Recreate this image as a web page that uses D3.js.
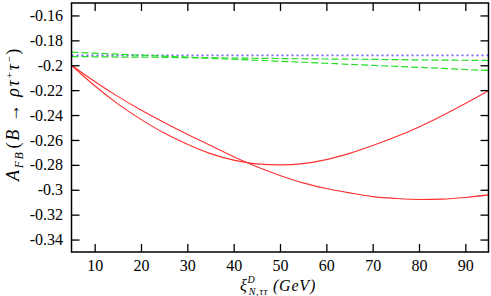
<!DOCTYPE html>
<html><head><meta charset="utf-8">
<script src="https://cdn.jsdelivr.net/npm/d3@7"></script>
<style>body{margin:0;background:#fff}svg{display:block}</style>
</head><body>
<script>
const xs = [5,10,15,20,25,30,35,40,45,50,55,60,65,70,75,80,85,90,95];
const red1 = [-0.200,-0.2165,-0.2310,-0.2435,-0.2545,-0.2635,-0.2710,-0.2762,-0.2792,-0.2800,-0.2790,-0.2758,-0.2708,-0.2645,-0.2575,-0.2495,-0.2405,-0.2308,-0.2205];
const red2 = [-0.200,-0.2130,-0.2250,-0.2360,-0.2460,-0.2555,-0.2645,-0.2735,-0.2815,-0.2885,-0.2945,-0.2990,-0.3025,-0.3055,-0.3070,-0.3078,-0.3075,-0.3062,-0.3041];
const green1 = [-0.1895,-0.1903,-0.1911,-0.1919,-0.1927,-0.1935,-0.1944,-0.1952,-0.1960,-0.1968,-0.1976,-0.1984,-0.1993,-0.2001,-0.2009,-0.2017,-0.2025,-0.2034,-0.2042];
const green2 = [-0.1930,-0.1932,-0.1934,-0.1935,-0.1937,-0.1939,-0.1941,-0.1942,-0.1944,-0.1946,-0.1948,-0.1950,-0.1951,-0.1953,-0.1955,-0.1957,-0.1959,-0.1960,-0.1962];
const blue = [-0.1920,-0.1920,-0.1920,-0.1920,-0.1920,-0.1920,-0.1920,-0.1920,-0.1920,-0.1920,-0.1920,-0.1920,-0.1920,-0.1920,-0.1920,-0.1920,-0.1920,-0.1920,-0.1920];
const xTicks = [10,20,30,40,50,60,70,80,90];
const yTicks = [-0.16,-0.18,-0.2,-0.22,-0.24,-0.26,-0.28,-0.3,-0.32,-0.34];

const W = 491, H = 296;
const svg = d3.select("body").append("svg").attr("width", W).attr("height", H);
const x = d3.scaleLinear().domain([5,95]).range([71.5,488.5]);
const y = d3.scaleLinear().domain([-0.35,-0.15]).range([252,3]);
const font = "'Liberation Serif', 'DejaVu Serif', serif";

const line = d3.line().x((d,i)=>x(xs[i])).y(d=>y(d)).curve(d3.curveMonotoneX);
const series = [
  {v: blue, c: "#6a6af0", w: 1.7, dash: "2,3"},
  {v: green1, c: "#22dd22", w: 1.2, dash: "7,3"},
  {v: green2, c: "#22dd22", w: 1.2, dash: "7,3"},
  {v: red1, c: "#ff3030", w: 1.1, dash: null},
  {v: red2, c: "#ff3030", w: 1.1, dash: null}
];
const g = svg.append("g");
series.forEach(s => {
  g.append("path").attr("d", line(s.v)).attr("fill","none")
   .attr("stroke", s.c).attr("stroke-width", s.w)
   .attr("stroke-dasharray", s.dash);
});

// axes (ticks inward)
const tl = 8;
svg.append("g").attr("transform",`translate(0,252)`)
  .call(d3.axisBottom(x).tickValues(xTicks).tickSizeInner(-tl).tickSizeOuter(0).tickPadding(8).tickFormat(d3.format("d")));
svg.append("g").attr("transform",`translate(0,3)`)
  .call(d3.axisTop(x).tickValues(xTicks).tickSizeInner(-tl).tickSizeOuter(0).tickFormat(""));
svg.append("g").attr("transform",`translate(71.5,0)`)
  .call(d3.axisLeft(y).tickValues(yTicks).tickSizeInner(-tl).tickSizeOuter(0).tickPadding(8.5).tickFormat(d=>String(+d.toFixed(2))));
svg.append("g").attr("transform",`translate(488.5,0)`)
  .call(d3.axisRight(y).tickValues(yTicks).tickSizeInner(-tl).tickSizeOuter(0).tickFormat(""));
svg.selectAll(".domain").remove();
svg.selectAll(".tick line").attr("stroke","#000").attr("stroke-width",1.3);
svg.selectAll("g").attr("font-family", null);
svg.selectAll(".tick text").style("font-family", font).style("font-size", "16px").attr("fill","#000");
svg.append("rect").attr("x",71.5).attr("y",3).attr("width",417).attr("height",249)
  .attr("fill","none").attr("stroke","#000").attr("stroke-width",1.5);

// x label
const xl = svg.append("text").attr("x", 278).attr("y", 291).attr("text-anchor","middle")
  .style("font-family", font).style("font-size", "16px").attr("font-style","italic")
  .attr("letter-spacing", 0.8);
xl.append("tspan").text("ξ");
xl.append("tspan").style("font-size","10px").attr("dy",-8).text("D");
xl.append("tspan").style("font-size","10px").attr("dx",-7).attr("dy",12).text("N,ττ");
xl.append("tspan").attr("dy",-4).text("  (GeV)");

// y label
const yl = svg.append("text").attr("transform","translate(19,114) rotate(-90)")
  .attr("text-anchor","middle").style("font-family", font).style("font-size", "18px")
  .attr("font-style","italic").attr("letter-spacing", 1.6);
yl.append("tspan").text("A");
yl.append("tspan").style("font-size","12px").attr("dy",4).text("FB");
yl.append("tspan").attr("dy",-4).attr("dx",2).attr("font-style","normal").text("(");
yl.append("tspan").text("B");
yl.append("tspan").attr("dx",6).attr("font-style","normal").text("→");
yl.append("tspan").attr("dx",6).text("ρτ");
yl.append("tspan").style("font-size","11px").attr("dy",-6).attr("font-style","normal").text("+");
yl.append("tspan").attr("dy",6).text("τ");
yl.append("tspan").style("font-size","11px").attr("dy",-6).attr("font-style","normal").text("−");
yl.append("tspan").attr("dy",6).attr("font-style","normal").text(")");
</script>
</body></html>
